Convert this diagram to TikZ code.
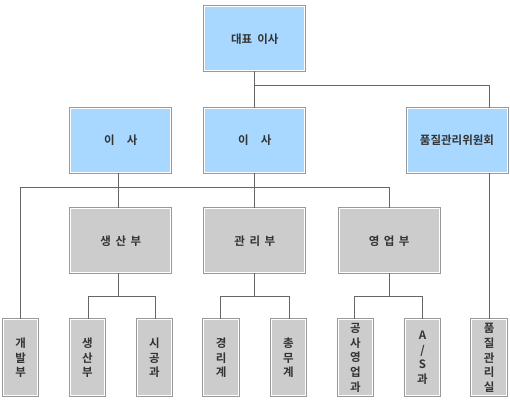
\documentclass[tikz,border=0pt]{standalone}
\usepackage{fontspec}
\setmainfont{Noto Sans CJK KR}[BoldFont={Noto Sans CJK KR Bold}]
\definecolor{boxblue}{HTML}{A8D8FF}
\definecolor{boxgray}{HTML}{CCCCCC}
\definecolor{frame}{HTML}{999999}
\definecolor{wire}{HTML}{666666}
\definecolor{txt}{HTML}{333333}
\begin{document}
\begin{tikzpicture}[x=1pt,y=-1pt,
  base/.style={rectangle, draw=white, line width=1pt, preaction={draw=frame, line width=3pt},
    text=txt, font=\fontsize{11.5}{14.7}\selectfont\bfseries, inner sep=0pt, align=center},
  bigbox/.style={base, minimum width=100pt, minimum height=64pt},
  blue/.style={fill=boxblue},
  grey/.style={fill=boxgray},
  smallbox/.style={base, fill=boxgray, minimum width=34.5pt, minimum height=76pt},
  wirestyle/.style={draw=wire, line width=1pt}]
\useasboundingbox (0,0) rectangle (510,400);
% level 0
\node[bigbox,blue] (top) at (254.8,38.8) {대표\hspace{5pt}이사};
% level 1
\node[bigbox,blue] (d1) at (120.8,140.2) {이\hspace{12pt}사};
\node[bigbox,blue] (d2) at (254.8,140.2) {이\hspace{12pt}사};
\node[bigbox,blue] (qc) at (457,140.2) {품질관리위원회};
% level 2
\node[bigbox,grey] (p1) at (120.8,240.7) {생\hspace{4.5pt}산\hspace{4.5pt}부};
\node[bigbox,grey] (p2) at (254.8,240.7) {관\hspace{4.5pt}리\hspace{4.5pt}부};
\node[bigbox,grey] (p3) at (389.2,240.7) {영\hspace{4.5pt}업\hspace{4.5pt}부};
% level 3
\node[smallbox] (dev) at (20.7,357.8) {개\\발\\부};
\node[smallbox] (s1) at (87.5,357.8) {생\\산\\부};
\node[smallbox] (s2) at (154.5,357.8) {시\\공\\과};
\node[smallbox] (m1) at (221.2,357.8) {경\\리\\계};
\node[smallbox] (m2) at (288.3,357.8) {총\\무\\계};
\node[smallbox] (e1) at (355.5,357.8) {공\\사\\영\\업\\과};
\node[smallbox] (e2) at (422.5,357.8) {A\\/\\S\\과};
\node[smallbox] (qa) at (489.2,357.8) {품\\질\\관\\리\\실};
% junctions
\coordinate (j0) at (254.3,85.3);
\coordinate (bus) at (0,187.3);
% connectors
\draw[wirestyle] ([xshift=-0.5pt]top.south) -- ([xshift=-0.5pt]d2.north);
\draw[wirestyle] (j0) -| (qa.north |- qc.north);
\draw[wirestyle] (qa.north |- qc.south) -- (qa.north);
\draw[wirestyle] ([xshift=-2.5pt]d1.south) -- ([xshift=-2.5pt]p1.north);
\draw[wirestyle] ([xshift=-0.5pt]d2.south) -- ([xshift=-0.5pt]p2.north);
\draw[wirestyle] (dev.north) -- (dev.north |- bus) -| ([xshift=0.1pt]p3.north);
\draw[wirestyle] ([xshift=-2.5pt]p1.south) -- ++(0,23.3) -| ([xshift=0.8pt]s1.north);
\draw[wirestyle] ([xshift=-2.5pt]p1.south) ++(0,23.3) -| ([xshift=0.8pt]s2.north);
\draw[wirestyle] ([xshift=-0.5pt]p2.south) -- ++(0,23.3) -| ([xshift=-1.2pt]m1.north);
\draw[wirestyle] ([xshift=-0.5pt]p2.south) ++(0,23.3) -| ([xshift=1pt]m2.north);
\draw[wirestyle] (p3.south) -- ++(0,23.3) -| ([xshift=-1.5pt]e1.north);
\draw[wirestyle] (p3.south) ++(0,23.3) -| (e2.north);
\end{tikzpicture}
\end{document}
